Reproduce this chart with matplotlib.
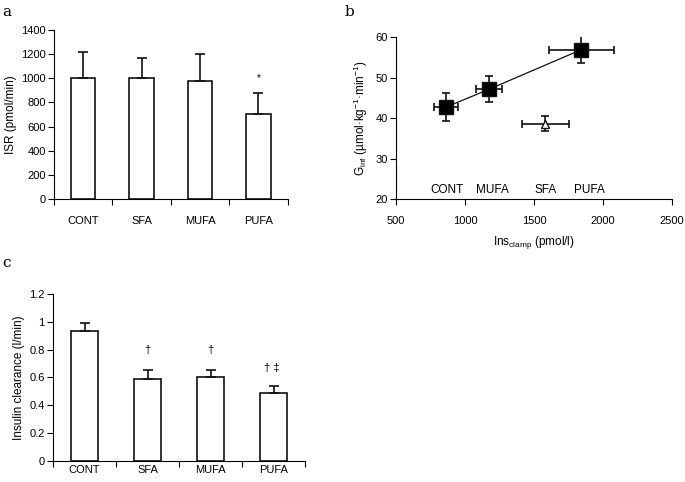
import numpy as np
import matplotlib
matplotlib.use("Agg")
from matplotlib import pyplot as plt

plt.rcParams["font.family"] = ["Liberation Sans", "DejaVu Sans"]
plt.rcParams["font.size"] = 8

groups = ["CONT", "SFA", "MUFA", "PUFA"]

# panel a: insulin secretion rate
isr = [1005, 1000, 978, 704]
isr_err = [210, 165, 222, 172]

# panel b: glucose infusion vs clamp insulin
b_names = ["CONT", "MUFA", "SFA", "PUFA"]
ins_clamp = [862, 1173, 1583, 1843]
ins_err = [85, 94, 168, 237]
g_inf = [42.7, 47.1, 38.6, 56.9]
g_err = [3.5, 3.2, 1.8, 3.3]
b_label_x = [869, 1200, 1583, 1899]

# panel c: insulin clearance
clear = [0.93, 0.59, 0.60, 0.49]
clear_err = [0.06, 0.06, 0.05, 0.05]
c_marks = ["", "\u2020", "\u2020", "\u2020 \u2021"]
c_mark_y = [0, 0.80, 0.80, 0.665]

fig = plt.figure(figsize=(6.85, 4.82), dpi=100)


def bar_panel(ax, vals, errs, ymax, yticks, ylabel, fmt, lab_pad):
    x = np.arange(len(vals)) + 0.5
    ax.bar(x, vals, width=0.42, color="white", edgecolor="#111111", linewidth=1.2)
    ax.errorbar(x, vals, yerr=[np.zeros(len(vals)), errs], fmt="none",
                ecolor="#111111", elinewidth=1.2, capsize=3.5, capthick=1.2)
    ax.set_xlim(0, len(vals))
    ax.set_ylim(0, ymax)
    ax.set_yticks(yticks)
    ax.set_yticklabels([fmt(v) for v in yticks])
    ax.set_xticks(np.arange(len(vals) + 1))
    ax.set_xticklabels([])
    ax.set_xticks(x, minor=True)
    ax.set_xticklabels(groups, minor=True)
    ax.tick_params(axis="x", which="minor", length=0, pad=lab_pad)
    ax.tick_params(axis="x", which="major", direction="out", length=4)
    ax.tick_params(axis="y", direction="out", length=4, pad=2)
    for s in ["top", "right"]:
        ax.spines[s].set_visible(False)
    ax.set_ylabel(ylabel, fontsize=8.5, labelpad=3)
    return x


# ---- a
ax_a = fig.add_axes([0.0788, 0.587, 0.341, 0.351])
xa = bar_panel(ax_a, isr, isr_err, 1400, list(range(0, 1401, 200)),
               "ISR (pmol/min)", lambda v: str(v), 12)
ax_a.text(xa[3], 1000, "*", ha="center", va="center", fontsize=7)
fig.text(0.003, 0.975, "a", family="DejaVu Serif", fontsize=11, va="center")

# ---- b
ax_b = fig.add_axes([0.578, 0.587, 0.403, 0.336])
ax_b.plot([ins_clamp[0], ins_clamp[1], ins_clamp[3]], [g_inf[0], g_inf[1], g_inf[3]],
          color="#111111", linewidth=0.9)
for i, n in enumerate(b_names):
    if n == "SFA":
        mk, fc, ms = "^", "white", 6
    else:
        mk, fc, ms = "s", "black", 9.5
    ax_b.errorbar(ins_clamp[i], g_inf[i], xerr=ins_err[i], yerr=g_err[i], fmt=mk,
                  color="#111111", mfc=fc, mec="#111111", ms=ms, elinewidth=1.2,
                  capsize=3, capthick=1.2, zorder=3)
    ax_b.text(b_label_x[i], 22.2, n, ha="center", va="center", fontsize=8.5)
ax_b.set_xlim(500, 2500)
ax_b.set_ylim(20, 60)
ax_b.set_xticks([500, 1000, 1500, 2000, 2500])
ax_b.set_yticks([20, 30, 40, 50, 60])
ax_b.tick_params(direction="out", length=4, pad=2)
ax_b.tick_params(axis="x", pad=8)
for s in ["top", "right"]:
    ax_b.spines[s].set_visible(False)
ax_b.set_xlabel("Ins$_{\\mathregular{clamp}}$ (pmol/l)", fontsize=8.5, labelpad=6)
ax_b.set_ylabel("G$_{\\mathregular{inf}}$ (\u00b5mol\u00b7kg$^{\\mathregular{-1}}$\u00b7min$^{\\mathregular{-1}}$)",
                fontsize=8.5, labelpad=4)
fig.text(0.503, 0.975, "b", family="DejaVu Serif", fontsize=11, va="center")

# ---- c
ax_c = fig.add_axes([0.0774, 0.0442, 0.368, 0.346])
xc = bar_panel(ax_c, clear, clear_err, 1.2, [0, 0.2, 0.4, 0.6, 0.8, 1.0, 1.2],
               "Insulin clearance (l/min)",
               lambda v: "0" if v == 0 else ("1" if v == 1 else f"{v:.1f}"), 3)
for i, m in enumerate(c_marks):
    if m:
        ax_c.text(xc[i] - (0.03 if i == 3 else 0), c_mark_y[i], m, ha="center", va="center", fontsize=8)
fig.text(0.003, 0.455, "c", family="DejaVu Serif", fontsize=11, va="center")

fig.savefig("out.png", dpi=100)
